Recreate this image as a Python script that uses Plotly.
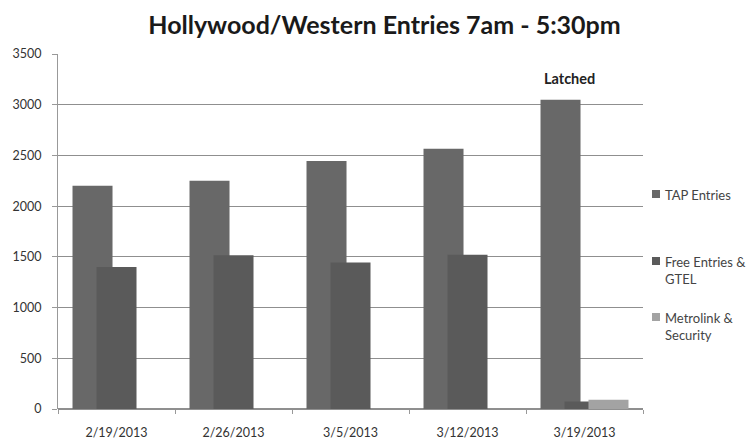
import plotly.graph_objects as go

categories = ["2/19/2013", "2/26/2013", "3/5/2013", "3/12/2013", "3/19/2013"]
tap_entries = [2200, 2250, 2445, 2565, 3050]
free_entries = [1400, 1515, 1445, 1520, 75]
metrolink = [0, 0, 0, 0, 90]

series_names = ["TAP Entries", "Free Entries &<br>GTEL", "Metrolink &<br>Security"]
series_colors = ["#686868", "#5a5a5a", "#a3a3a3"]
series_values = [tap_entries, free_entries, metrolink]
bar_offsets = [-0.376, -0.171, 0.034]
bar_width = 0.342

# figure geometry (page has an 8px body margin)
W, H = 748, 433
ML, MR, MT, MB = 50, 113, 46, 32
PW, PH = W - ML - MR, H - MT - MB


def px(fx):
    return (fx - ML) / PW


def py(fy):
    return (H - MB - fy) / PH


fig = go.Figure()
for i, (name, vals, col, off) in enumerate(zip(series_names, series_values, series_colors, bar_offsets)):
    fig.add_trace(go.Bar(
        x=categories, y=vals, name=name,
        marker=dict(color=col, line=dict(width=0)),
        width=bar_width, offset=off, showlegend=False,
    ))

fig.add_annotation(x=categories[4], y=tap_entries[4], text="<b>Latched</b>", showarrow=False,
                   xshift=-15, yshift=21, font=dict(family="Lato", size=14.5, color="#222"))

# legend drawn as keys + labels
legend_rows = [182, 249, 305]
for name, col, top in zip(series_names, series_colors, legend_rows):
    fig.add_shape(type="rect", xref="paper", yref="paper",
                  x0=px(644), x1=px(652), y0=py(top + 8), y1=py(top),
                  fillcolor=col, line=dict(width=0))
    fig.add_annotation(xref="paper", yref="paper", x=px(655), y=py(top - 5),
                       xanchor="left", yanchor="top", align="left", showarrow=False,
                       text=name, font=dict(family="Lato", size=13, color="#444"))

fig.update_layout(
    width=W, height=H,
    barmode="overlay",
    paper_bgcolor="white", plot_bgcolor="white",
    margin=dict(l=ML, r=MR, t=MT, b=MB, autoexpand=False),
    title=dict(text="<b>Hollywood/Western Entries 7am - 5:30pm</b>", x=(384.5 - 8) / W, xanchor="center",
               xref="container", y=1 - 17 / H, yref="container", yanchor="middle",
               font=dict(family="Lato", size=25, color="#1a1a1a")),
    font=dict(family="Lato", size=12, color="#333"),
    showlegend=False,
    xaxis=dict(type="category", showgrid=False, ticks="outside", tickson="boundaries",
               ticklen=4, tickcolor="#999", showline=False, automargin=False,
               ticklabelstandoff=14,
               tickfont=dict(family="Lato", size=12.5, color="#333")),
    yaxis=dict(range=[0, 3500], dtick=500, showgrid=True, gridcolor="#8f8f8f", gridwidth=1,
               showline=True, linecolor="#999", ticks="outside", ticklen=5, tickcolor="#999",
               zeroline=True, zerolinecolor="#8f8f8f", ticklabelstandoff=8, automargin=False,
               tickfont=dict(family="Lato", size=12.5, color="#333")),
)

fig.write_html("out.html")
